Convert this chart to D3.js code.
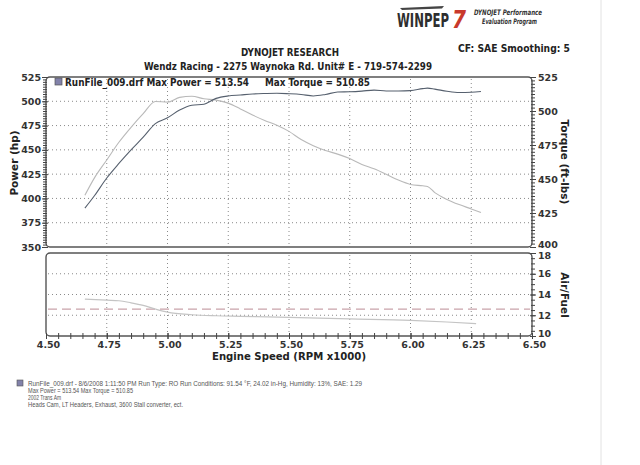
<!DOCTYPE html>
<html><head><meta charset="utf-8">
<script src="https://cdn.jsdelivr.net/npm/d3@7"></script>
<style>body{margin:0;background:#fff}svg{display:block}</style>
</head><body>
<svg id="chart" width="640" height="465"></svg>
<script>
// ---- data ----
const rpm = [4.66,4.70,4.75,4.80,4.85,4.90,4.95,5.00,5.05,5.10,5.15,5.20,5.25,5.30,5.35,5.40,5.45,5.50,5.55,5.60,5.65,5.70,5.75,5.80,5.85,5.90,5.95,6.00,6.05,6.07,6.10,6.15,6.20,6.25,6.29];
const powerHp = [390,403,421,436,450,463,477,483,491,496,497,503,505.5,506.5,507.5,508,508.3,507.8,507,505.5,507,509.5,509.8,510.5,511.5,510.6,510.6,511,513,513.54,512.5,510.3,509,509.3,510];
const torqueFtLbs = [438,451,464,477,488,498,507,506.5,510,510.85,509,508,505.8,501.5,497,493,489.5,485,479,474.5,471,468.3,465,460.7,457.5,453.5,449.2,446,445,444.5,440,435,431.2,428,425.3];
const afrRpm = [4.66,4.75,4.80,4.85,4.90,4.95,5.00,5.10,5.20,5.30,5.50,5.75,6.00,6.15,6.27];
const afrValues = [13.55,13.45,13.4,13.2,12.95,12.6,12.3,12.05,11.95,11.9,11.8,11.65,11.5,11.35,11.2];
const afrTarget = 12.6;
const rpmTicks = [4.50,4.75,5.00,5.25,5.50,5.75,6.00,6.25,6.50];
const hpTicks = [350,375,400,425,450,475,500,525];
const torqueTicks = [400,425,450,475,500,525];
const afrTicks = [10,12,14,16,18];
const footLines = [
  "RunFile_009.drf - 8/6/2008 1:11:50 PM  Run Type: RO  Run Conditions: 91.54 \u00B0F, 24.02 in-Hg,  Humidity:  13%, SAE: 1.29",
  "Max Power = 513.54  Max Torque = 510.85",
  "2002 Trans Am",
  "Heads  Cam, LT Headers, Exhaust, 3600 Stall converter, ect."
];

// ---- layout ----
const svg = d3.select("#chart");
const L = 46, R = 532, T1 = 77, B1 = 247, T2 = 253, B2 = 336;
const x = d3.scaleLinear().domain([4.5, 6.5]).range([L, R]);
const yHp = d3.scaleLinear().domain([350, 525]).range([B1, T1]);
const yTq = d3.scaleLinear().domain([400, 525]).range([B1, T1]);
const yAfr = d3.scaleLinear().domain([10, 18]).range([B2, T2]);
const bold = "'DejaVu Sans', Verdana, sans-serif";

svg.append("rect").attr("width", 640).attr("height", 465).attr("fill", "#fff");
// page edge line
svg.append("line").attr("x1", 601).attr("x2", 601).attr("y1", 0).attr("y2", 465)
  .attr("stroke", "#e2e2e2").attr("stroke-width", 1);

// ---- logo ----
const logo = svg.append("g");
logo.append("path").attr("d", "M400,8 L444,6 L442,8.5 L402,10 Z").attr("fill", "#444");
logo.append("text").attr("x", 397).attr("y", 27).attr("font-family", "'DejaVu Sans Condensed','DejaVu Sans',sans-serif")
  .attr("font-weight", "bold").attr("font-size", 19).attr("fill", "#2e2e2e")
  .attr("textLength", 52).attr("lengthAdjust", "spacingAndGlyphs").text("WINPEP");
logo.append("text").attr("x", 452).attr("y", 28).attr("font-family", bold).attr("font-style", "italic")
  .attr("font-weight", "bold").attr("font-size", 25).attr("fill", "#c8392b")
  .attr("textLength", 14).attr("lengthAdjust", "spacingAndGlyphs").text("7");
logo.append("text").attr("x", 474).attr("y", 15).attr("font-family", bold).attr("font-style", "italic")
  .attr("font-weight", "bold").attr("font-size", 7.5).attr("fill", "#333")
  .attr("textLength", 68).attr("lengthAdjust", "spacingAndGlyphs").text("DYNOJET Performance");
logo.append("text").attr("x", 482).attr("y", 24).attr("font-family", bold).attr("font-style", "italic")
  .attr("font-weight", "bold").attr("font-size", 7.5).attr("fill", "#333")
  .attr("textLength", 55).attr("lengthAdjust", "spacingAndGlyphs").text("Evaluation Program");

// ---- titles ----
svg.append("text").attr("x", 290).attr("y", 56).attr("text-anchor", "middle")
  .attr("font-family", bold).attr("font-weight", "bold").attr("font-size", 10).attr("fill", "#222")
  .attr("textLength", 98).attr("lengthAdjust", "spacingAndGlyphs").text("DYNOJET RESEARCH");
svg.append("text").attr("x", 288).attr("y", 70).attr("text-anchor", "middle")
  .attr("font-family", bold).attr("font-weight", "bold").attr("font-size", 10).attr("fill", "#222")
  .attr("textLength", 288).attr("lengthAdjust", "spacingAndGlyphs").text("Wendz Racing - 2275 Waynoka Rd. Unit# E - 719-574-2299");
svg.append("text").attr("x", 458).attr("y", 52)
  .attr("font-family", bold).attr("font-weight", "bold").attr("font-size", 10).attr("fill", "#222")
  .attr("textLength", 112).attr("lengthAdjust", "spacingAndGlyphs").text("CF: SAE  Smoothing: 5");

// ---- grids ----
function vgrid(top, bot) {
  svg.append("g").selectAll("line").data(rpmTicks.slice(1, -1)).join("line")
    .attr("x1", d => x(d)).attr("x2", d => x(d)).attr("y1", top).attr("y2", bot)
    .attr("stroke", "#8a8a8a").attr("stroke-width", 1).attr("stroke-dasharray", "1,3");
}
vgrid(T1 + 2, B1 - 2);
vgrid(T2 + 2, B2 - 2);
svg.append("g").selectAll("line").data(hpTicks.slice(1, -1)).join("line")
  .attr("x1", L + 2).attr("x2", R - 2).attr("y1", d => yHp(d)).attr("y2", d => yHp(d))
  .attr("stroke", "#8a8a8a").attr("stroke-width", 1).attr("stroke-dasharray", "1,3");
svg.append("g").selectAll("line").data(afrTicks.slice(1, -1)).join("line")
  .attr("x1", L + 2).attr("x2", R - 2).attr("y1", d => yAfr(d)).attr("y2", d => yAfr(d))
  .attr("stroke", "#8a8a8a").attr("stroke-width", 1).attr("stroke-dasharray", "1,3");

// ---- frames ----
svg.append("rect").attr("x", L).attr("y", T1).attr("width", R - L).attr("height", B1 - T1)
  .attr("rx", 4).attr("fill", "none").attr("stroke", "#555").attr("stroke-width", 1.4);
svg.append("rect").attr("x", L).attr("y", T2).attr("width", R - L).attr("height", B2 - T2)
  .attr("rx", 4).attr("fill", "none").attr("stroke", "#555").attr("stroke-width", 1.4);

// ---- axes ----
function crossTicks(sel, len) { sel.selectAll(".tick line").attr("x1", -len).attr("x2", len).attr("stroke", "#444"); }
function crossTicksH(sel, len) { sel.selectAll(".tick line").attr("y1", -len).attr("y2", len).attr("stroke", "#444"); }
function styleAxis(g) {
  g.select(".domain").remove();
  g.selectAll("text").attr("font-family", bold).attr("font-weight", "bold").attr("font-size", 9.5).attr("fill", "#333");
}
// left hp
const hpMinor = d3.range(350, 525.1, 2.5);
const gHpM = svg.append("g").attr("transform", `translate(${L - 1},0)`)
  .call(d3.axisLeft(yHp).tickValues(hpMinor).tickFormat("").tickSize(0));
crossTicks(gHpM, 2); gHpM.select(".domain").remove();
const gHp = svg.append("g").attr("transform", `translate(${L - 1},0)`)
  .call(d3.axisLeft(yHp).tickValues(hpTicks).tickSize(0).tickPadding(4));
crossTicks(gHp, 3); styleAxis(gHp);
// right torque
const tqMinor = d3.range(400, 525.1, 2.5);
const gTqM = svg.append("g").attr("transform", `translate(${R + 1},0)`)
  .call(d3.axisRight(yTq).tickValues(tqMinor).tickFormat("").tickSize(0));
crossTicks(gTqM, 2); gTqM.select(".domain").remove();
const gTq = svg.append("g").attr("transform", `translate(${R + 1},0)`)
  .call(d3.axisRight(yTq).tickValues(torqueTicks).tickSize(0).tickPadding(5));
crossTicks(gTq, 3); styleAxis(gTq);
gTq.selectAll(".tick").filter(d => d === 400).select("text").attr("dy", "0.1em");
// right afr
const afrMinor = d3.range(10, 18.01, 0.5);
const gAfM = svg.append("g").attr("transform", `translate(${R + 1},0)`)
  .call(d3.axisRight(yAfr).tickValues(afrMinor).tickFormat("").tickSize(0));
crossTicks(gAfM, 2); gAfM.select(".domain").remove();
const gAf = svg.append("g").attr("transform", `translate(${R + 1},0)`)
  .call(d3.axisRight(yAfr).tickValues(afrTicks).tickSize(0).tickPadding(5));
crossTicks(gAf, 3); styleAxis(gAf);
gAf.selectAll(".tick").filter(d => d === 18).select("text").attr("dy", "0.55em");
gAf.selectAll(".tick").filter(d => d === 10).select("text").attr("dy", "0.1em");
// bottom rpm
const rpmMinor = d3.range(4.5, 6.501, 0.05);
const gXM = svg.append("g").attr("transform", `translate(0,${B2})`)
  .call(d3.axisBottom(x).tickValues(rpmMinor).tickFormat("").tickSize(0));
crossTicksH(gXM, 3); gXM.select(".domain").remove();
const gX = svg.append("g").attr("transform", `translate(0,${B2})`)
  .call(d3.axisBottom(x).tickValues(rpmTicks).tickFormat(d3.format(".2f")).tickSize(0).tickPadding(5));
crossTicksH(gX, 3); styleAxis(gX);
gX.selectAll("text").attr("dx", 2);

// ---- axis titles ----
svg.append("text").attr("transform", "translate(18,163) rotate(-90)").attr("text-anchor", "middle")
  .attr("font-family", bold).attr("font-weight", "bold").attr("font-size", 10.5).attr("fill", "#222").text("Power (hp)");
svg.append("text").attr("transform", "translate(561,162) rotate(90)").attr("text-anchor", "middle")
  .attr("font-family", bold).attr("font-weight", "bold").attr("font-size", 10.5).attr("fill", "#222").text("Torque (ft-lbs)");
svg.append("text").attr("transform", "translate(561,295) rotate(90)").attr("text-anchor", "middle")
  .attr("font-family", bold).attr("font-weight", "bold").attr("font-size", 10.5).attr("fill", "#222").text("Air/Fuel");
svg.append("text").attr("x", 289).attr("y", 360).attr("text-anchor", "middle")
  .attr("font-family", bold).attr("font-weight", "bold").attr("font-size", 11).attr("fill", "#222")
  .attr("textLength", 154).attr("lengthAdjust", "spacingAndGlyphs").text("Engine Speed (RPM x1000)");

// ---- series ----
const lineHp = d3.line().x((d, i) => x(rpm[i])).y(d => yHp(d)).curve(d3.curveMonotoneX);
const lineTq = d3.line().x((d, i) => x(rpm[i])).y(d => yTq(d)).curve(d3.curveMonotoneX);
const lineAfr = d3.line().x((d, i) => x(afrRpm[i])).y(d => yAfr(d)).curve(d3.curveMonotoneX);
svg.append("path").attr("d", lineTq(torqueFtLbs)).attr("fill", "none").attr("stroke", "#b9b9b9").attr("stroke-width", 1.1);
svg.append("path").attr("d", lineHp(powerHp)).attr("fill", "none").attr("stroke", "#56606e").attr("stroke-width", 1.1);
svg.append("line").attr("x1", L + 2).attr("x2", R - 2).attr("y1", yAfr(afrTarget)).attr("y2", yAfr(afrTarget))
  .attr("stroke", "#c9a3aa").attr("stroke-width", 1.3).attr("stroke-dasharray", "9,5");
svg.append("path").attr("d", lineAfr(afrValues)).attr("fill", "none").attr("stroke", "#c4c4c4").attr("stroke-width", 1.2);

// ---- in-plot legend ----
svg.append("rect").attr("x", 55).attr("y", 78).attr("width", 7).attr("height", 7)
  .attr("fill", "#8282aa").attr("stroke", "#555").attr("stroke-width", 0.7);
svg.append("text").attr("x", 65).attr("y", 86).attr("font-family", bold).attr("font-weight", "bold")
  .attr("font-size", 10).attr("fill", "#222").attr("textLength", 184).attr("lengthAdjust", "spacingAndGlyphs")
  .text("RunFile_009.drf Max Power = 513.54");
svg.append("text").attr("x", 265).attr("y", 86).attr("font-family", bold).attr("font-weight", "bold")
  .attr("font-size", 10).attr("fill", "#222").attr("textLength", 105).attr("lengthAdjust", "spacingAndGlyphs")
  .text("Max Torque = 510.85");

// ---- footnote ----
svg.append("rect").attr("x", 17).attr("y", 380).attr("width", 6).attr("height", 6)
  .attr("fill", "#8282aa").attr("stroke", "#555").attr("stroke-width", 0.6);
const footW = [334, 105, 33, 155];
svg.append("g").selectAll("text").data(footLines).join("text")
  .attr("x", 28).attr("y", (d, i) => 386 + i * 7)
  .attr("font-family", "'Liberation Sans', Arial, sans-serif").attr("font-size", 6.5).attr("fill", "#555")
  .attr("textLength", (d, i) => footW[i]).attr("lengthAdjust", "spacingAndGlyphs")
  .text(d => d);
</script>
</body></html>
